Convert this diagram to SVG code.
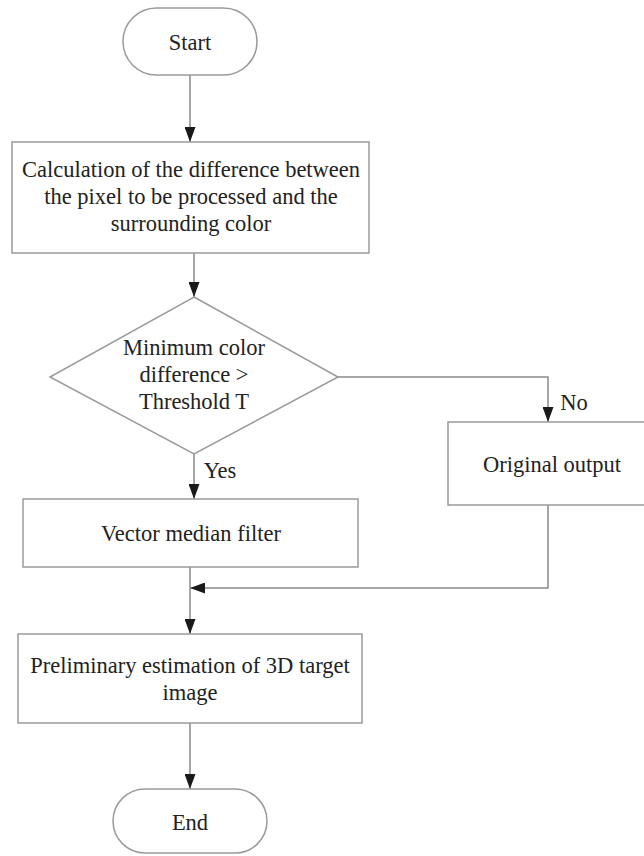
<svg xmlns="http://www.w3.org/2000/svg" width="644" height="856" viewBox="0 0 644 856">
<style>
.shape{fill:#fff;stroke:#9a9a9a;stroke-width:1.5}
.conn{fill:none;stroke:#8a8a8a;stroke-width:1.5}
text{font-family:"Liberation Serif","Times New Roman",serif;font-size:22.5px;fill:#222;text-anchor:middle}
</style>
<defs>
<marker id="ah" markerWidth="15" markerHeight="11" refX="15" refY="5.5" viewBox="0 0 15 11" markerUnits="userSpaceOnUse" orient="auto">
<path d="M0,0 L15,5.5 L0,11 Z" fill="#1a1a1a"/>
</marker>
</defs>
<rect width="644" height="856" fill="#fff"/>
<g id="connectors">
<line class="conn" x1="190" y1="75" x2="190" y2="142" marker-end="url(#ah)"/>
<line class="conn" x1="194" y1="253" x2="194" y2="297" marker-end="url(#ah)"/>
<polyline class="conn" points="338,377 548,377 548,422" marker-end="url(#ah)"/>
<line class="conn" x1="194" y1="454" x2="194" y2="499" marker-end="url(#ah)"/>
<polyline class="conn" points="548,505 548,588 190,588" marker-end="url(#ah)"/>
<line class="conn" x1="190" y1="567" x2="190" y2="634" marker-end="url(#ah)"/>
<line class="conn" x1="190" y1="723" x2="190" y2="789" marker-end="url(#ah)"/>
<text x="574" y="410">No</text>
<text x="220" y="478">Yes</text>
</g>
<g id="start">
<rect class="shape" x="123" y="8" width="134" height="67" rx="33.5"/>
<text x="190" y="50">Start</text>
</g>
<g id="calc">
<rect class="shape" x="12" y="142" width="357" height="111"/>
<text x="191" y="177">Calculation of the difference between</text>
<text x="191" y="204">the pixel to be processed and the</text>
<text x="191" y="231">surrounding color</text>
</g>
<g id="decision">
<polygon class="shape" points="194,297 338,377 194,454 50,377"/>
<text x="194" y="355">Minimum color</text>
<text x="194" y="382">difference &gt;</text>
<text x="194" y="409">Threshold T</text>
</g>
<g id="original">
<rect class="shape" x="448" y="422" width="210" height="83"/>
<text x="552" y="472">Original output</text>
</g>
<g id="vmf">
<rect class="shape" x="23" y="499" width="335" height="68"/>
<text x="191" y="541">Vector median filter</text>
</g>
<g id="prelim">
<rect class="shape" x="18" y="634" width="344" height="89"/>
<text x="190" y="673">Preliminary estimation of 3D target</text>
<text x="190" y="700">image</text>
</g>
<g id="end">
<rect class="shape" x="113" y="789" width="154" height="64" rx="32"/>
<text x="190" y="830">End</text>
</g>
</svg>
